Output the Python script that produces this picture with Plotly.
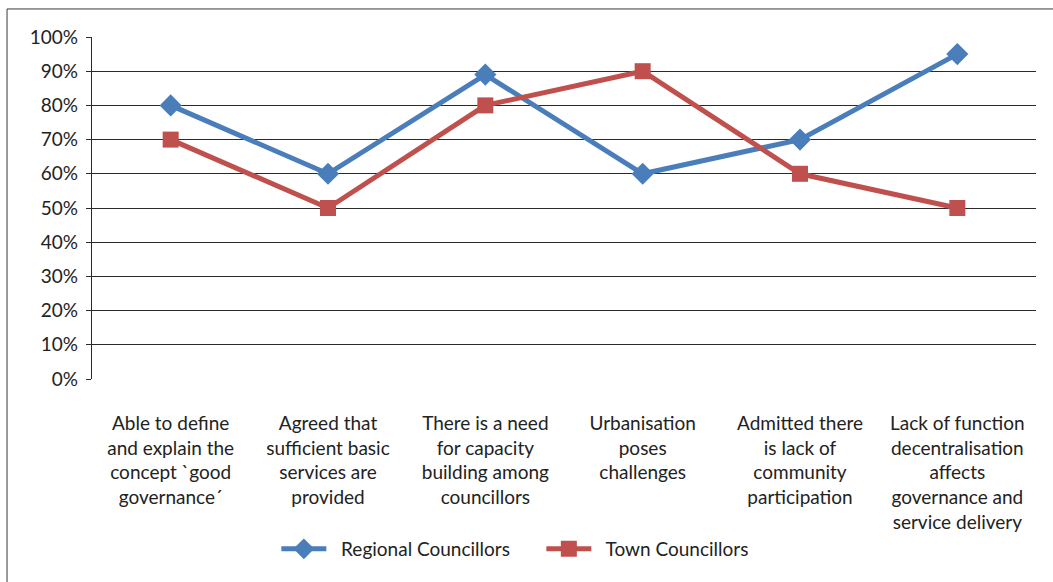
import plotly.graph_objects as go

categories = [
    "Able to define<br>and explain the<br>concept `good<br>governance´",
    "Agreed that<br>sufficient basic<br>services are<br>provided",
    "There is a need<br>for capacity<br>building among<br>councillors",
    "Urbanisation<br>poses<br>challenges",
    "Admitted there<br>is lack of<br>community<br>participation",
    "Lack of function<br>decentralisation<br>affects<br>governance and<br>service delivery",
]
regional = [80, 60, 89, 60, 70, 95]
town = [70, 50, 80, 90, 60, 50]
y_ticks = [0, 10, 20, 30, 40, 50, 60, 70, 80, 90, 100]
y_labels = [f"{v}%" for v in y_ticks]
series_names = ["Regional Councillors", "Town Councillors"]

FONT = "Lato"
x_idx = list(range(len(categories)))
PAD = "\u00a0\u00a0"

fig = go.Figure()
fig.add_trace(go.Scatter(
    x=x_idx, y=regional, name=PAD + series_names[0], mode="lines+markers",
    line=dict(color="#4a7ebb", width=5),
    marker=dict(symbol="diamond", size=17, color="#4a7ebb"),
))
fig.add_trace(go.Scatter(
    x=x_idx, y=town, name=PAD + series_names[1], mode="lines+markers",
    line=dict(color="#c0504d", width=5),
    marker=dict(symbol="square", size=16, color="#c0504d"),
))

fig.update_layout(
    width=1053, height=582,
    margin=dict(l=92, r=17, t=37, b=203),
    paper_bgcolor="white", plot_bgcolor="white",
    font=dict(family=FONT, size=19, color="#222222"),
    showlegend=True,
    legend=dict(orientation="h", x=0.476, xanchor="center", y=-0.497, yanchor="middle",
                font=dict(family=FONT, size=19, color="#222222"), itemwidth=45,
                entrywidth=205, entrywidthmode="pixels"),
    xaxis=dict(
        tickmode="array", tickvals=x_idx, ticktext=categories,
        range=[-0.5, 5.5], showgrid=False, zeroline=False, showline=False,
        ticks="", ticklabelstandoff=31,
    ),
    yaxis=dict(
        range=[0, 100], tickvals=y_ticks, ticktext=y_labels,
        showgrid=True, gridcolor="#2a2a2a", gridwidth=1.3,
        showline=True, linecolor="#2a2a2a", linewidth=1.3,
        ticks="outside", ticklen=5, tickcolor="#2a2a2a", ticklabelstandoff=4,
        zeroline=False, fixedrange=True,
    ),
    shapes=[dict(type="rect", xref="paper", yref="paper",
                 x0=-0.09, x1=1.2, y0=-1.0, y1=1.082,
                 line=dict(color="#3a3a3a", width=1), fillcolor="rgba(0,0,0,0)",
                 layer="below")],
)

fig.write_html("out.html")
